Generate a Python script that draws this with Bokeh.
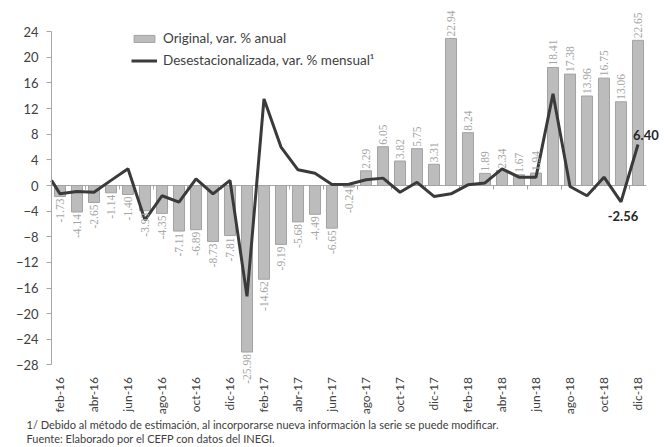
import math
from bokeh.plotting import figure
from bokeh.models import (ColumnDataSource, Range1d, FixedTicker, LabelSet,
                          Label, Legend, LegendItem)
from bokeh.embed import file_html
from bokeh.resources import INLINE

# ---------------- data ----------------
months = ["feb-16", "mar-16", "abr-16", "may-16", "jun-16", "jul-16", "ago-16", "sep-16",
          "oct-16", "nov-16", "dic-16",
          "ene-17", "feb-17", "mar-17", "abr-17", "may-17", "jun-17", "jul-17", "ago-17",
          "sep-17", "oct-17", "nov-17", "dic-17",
          "ene-18", "feb-18", "mar-18", "abr-18", "may-18", "jun-18", "jul-18", "ago-18",
          "sep-18", "oct-18", "nov-18", "dic-18"]

original = [-1.73, -4.14, -2.65, -1.14, -1.40, -3.93, -4.35, -7.11, -6.89, -8.73, -7.81,
            -25.98, -14.62, -9.19, -5.68, -4.49, -6.65, -0.24, 2.29, 6.05, 3.82, 5.75, 3.31,
            22.94, 8.24, 1.89, 2.34, 1.67, 1.94, 18.41, 17.38, 13.96, 16.75, 13.06, 22.65]

# seasonally adjusted monthly series, starts one month earlier (ene-16)
line_months = ["ene-16"] + months
desest = [2.9, -1.3, -0.95, -1.05, 0.8, 2.6, -5.4, -1.6, -2.6, 1.05, -1.3, 0.8,
          -17.3, 13.5, 6.0, 2.45, 1.9, 0.15, 0.2, 0.9, 1.15, -1.05, 0.5, -1.7,
          -1.3, 0.1, 0.4, 2.6, 1.3, 1.3, 14.3, -0.15, -1.6, 1.3, -2.56, 6.40]

y_ticks = list(range(-28, 25, 4))

series_labels = ["Original, var. % anual", "Desestacionalizada, var. % mensual\u00b9"]
footnotes = ["1/  Debido al método de estimación, al incorporarse nueva información la serie se puede modificar.",
             "Fuente: Elaborado por el CEFP con datos del INEGI."]

FONT = "Lato"

# ---------------- layout constants (pixels) ----------------
W, H = 664, 446
AXIS_X = 51.0      # pixel x of the value axis
CAT_PX = 17.0      # pixels per month
ZERO_Y = 185.0     # pixel y of value 0
VAL_PX = 6.41      # pixels per unit

n = len(months)
x_range = Range1d(-0.5 - AXIS_X / CAT_PX, -0.5 + (W - AXIS_X) / CAT_PX)
y_range = Range1d(-(H - ZERO_Y) / VAL_PX, ZERO_Y / VAL_PX)

p = figure(width=W, height=H, output_backend="svg", toolbar_location=None,
           x_range=x_range, y_range=y_range,
           min_border_left=0, min_border_right=0, min_border_top=0, min_border_bottom=0)
p.outline_line_color = None
p.xgrid.visible = False
p.ygrid.visible = False
p.background_fill_color = "white"

# y axis (drawn at the left edge of the categories)
p.yaxis.fixed_location = -0.5
p.yaxis.bounds = (y_ticks[0], y_ticks[-1])
p.yaxis.ticker = FixedTicker(ticks=y_ticks)
p.yaxis.minor_tick_line_color = None
p.yaxis.major_tick_out = 5
p.yaxis.major_tick_in = 0
p.yaxis.axis_line_color = "#a6a6a6"
p.yaxis.major_tick_line_color = "#a6a6a6"
p.yaxis.major_label_text_font = FONT
p.yaxis.major_label_text_font_size = "13px"
p.yaxis.major_label_text_color = "#404040"
p.yaxis.major_label_standoff = 8

# x axis labels at the bottom of the value range
xt = list(range(0, n, 2))
p.xaxis.fixed_location = y_ticks[0]
p.xaxis.ticker = FixedTicker(ticks=xt)
p.xaxis.major_label_overrides = {i: months[i] for i in xt}
p.xaxis.major_label_orientation = math.pi / 2
p.xaxis.axis_line_color = None
p.xaxis.major_tick_line_color = None
p.xaxis.minor_tick_line_color = None
p.xaxis.major_label_text_font = FONT
p.xaxis.major_label_text_font_size = "12px"
p.xaxis.major_label_text_color = "#404040"
p.xaxis.major_label_standoff = 6

# zero line with tick marks every two months
p.line(x=[-0.5, n - 0.5], y=[0, 0], line_color="#a6a6a6", line_width=1)
bounds_x = [i - 0.5 for i in range(0, n + 1, 2)]
p.segment(x0=bounds_x, y0=[0] * len(bounds_x), x1=bounds_x,
          y1=[-4 / VAL_PX] * len(bounds_x), line_color="#a6a6a6", line_width=1)

# bars
bar_src = ColumnDataSource(dict(x=list(range(n)), v=original, m=months))
bars = p.vbar(x="x", top="v", width=0.65, source=bar_src,
              fill_color="#bcbcbc", line_color="#a2a2a2", line_width=1)

# line series (clipped at the value axis: first segment starts at the axis edge)
lx = list(range(-1, n))
clip_x = [-0.5] + lx[1:]
clip_y = [(desest[0] + desest[1]) / 2] + desest[1:]
line_src = ColumnDataSource(dict(x=clip_x, v=clip_y))
ln = p.line(x="x", y="v", source=line_src, line_color="#3a3a3a", line_width=3)

# bar value labels
pos = [i for i, v in enumerate(original) if v >= 0]
neg = [i for i, v in enumerate(original) if v < 0]
pos_src = ColumnDataSource(dict(x=pos, y=[original[i] for i in pos],
                                t=["%.2f" % original[i] for i in pos]))
neg_src = ColumnDataSource(dict(x=neg, y=[original[i] for i in neg],
                                t=["%.2f" % original[i] for i in neg]))
common = dict(text="t", angle=math.pi / 2, text_font=FONT, text_font_size="11.5px",
              text_color="#a6a6a6", text_baseline="middle")
p.add_layout(LabelSet(x="x", y="y", source=pos_src, text_align="left",
                      y_offset=2, **common))
p.add_layout(LabelSet(x="x", y="y", source=neg_src, text_align="right",
                      y_offset=-2, **common))

# line data labels (last two points)
p.add_layout(Label(x=n - 1, y=desest[-1], text="%.2f" % desest[-1], x_offset=-5, y_offset=4,
                   text_align="left", text_baseline="bottom", text_font=FONT,
                   text_font_size="13px", text_font_style="bold", text_color="#262626"))
p.add_layout(Label(x=n - 2, y=desest[-2], text="%.2f" % desest[-2], x_offset=2, y_offset=-9,
                   text_align="center", text_baseline="top", text_font=FONT,
                   text_font_size="13px", text_font_style="bold", text_color="#262626"))

# legend
legend = Legend(items=[LegendItem(label=series_labels[0], renderers=[bars]),
                       LegendItem(label=series_labels[1], renderers=[ln])],
                location=(131, H - 70), orientation="vertical",
                border_line_color=None, background_fill_alpha=0,
                padding=0, margin=0, spacing=2, glyph_width=26, glyph_height=9,
                label_height=20, label_standoff=6, label_text_font=FONT,
                label_text_font_size="13.5px", label_text_color="#404040")
p.add_layout(legend)

# footnotes
for k, txt in enumerate(footnotes):
    p.add_layout(Label(x=26, y=H - 424 - 14 * k, x_units="screen", y_units="screen", text=txt,
                       text_align="left", text_baseline="middle", text_font=FONT,
                       text_font_size="11px", text_color="#404040"))

open("out.html", "w").write(file_html(p, INLINE))
